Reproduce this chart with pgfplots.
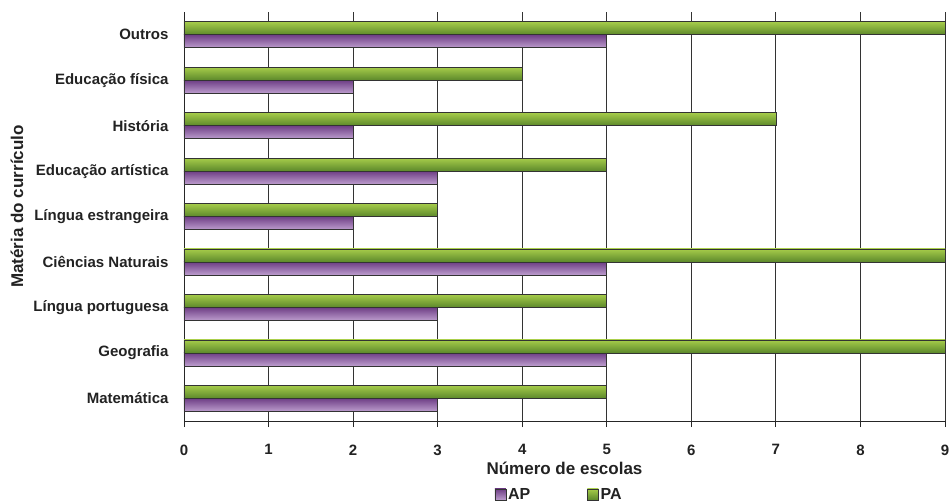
\documentclass[border=0pt]{standalone}
\usepackage{pgfplots}
\pgfplotsset{compat=1.18}
\usepackage{fontspec}
\setmainfont{Liberation Sans}
\definecolor{gtop}{HTML}{A6CC4A}
\definecolor{gbot}{HTML}{5C882B}
\definecolor{ptop}{HTML}{6E3E85}
\definecolor{pbot}{HTML}{BC9CCD}
\definecolor{txt}{HTML}{222222}
\pgfplotstableread{
idx AP PA
0 3 5
1 5 9
2 3 5
3 5 9
4 2 3
5 3 5
6 2 7
7 2 4
8 5 9
}\data
\begin{document}
\begin{tikzpicture}
\useasboundingbox (0,0) rectangle (950pt,503pt);
\begin{axis}[
  at={(184pt,82pt)}, anchor=south west,
  scale only axis, width=761pt, height=409pt,
  xmin=0, xmax=9, ymin=-0.5, ymax=8.5,
  axis x line=bottom, axis y line=left,
  axis line style={-, black!85, line width=0.8pt},
  xtick={0,...,9},
  xmajorgrids, grid style={black!80, line width=0.8pt},
  xtick style={black!85, line width=0.8pt},
  major tick length=6pt,
  ytick={0,...,8},
  yticklabels={Matemática,Geografia,Língua portuguesa,Ciências Naturais,Língua estrangeira,Educação artística,História,Educação física,Outros},
  minor ytick={-0.5,0.5,...,8.5},
  ytick style={draw=none},
  minor tick style={black!85, line width=0.8pt},
  minor tick length=6pt,
  tick align=outside,
  every tick label/.style={font=\fontsize{15}{17}\selectfont\bfseries, text=txt},
  /pgf/number format/assume math mode=true,
  xticklabel style={yshift=-14pt},
  yticklabel style={xshift=-6pt},
  xlabel={Número de escolas},
  ylabel={Matéria do currículo},
  label style={font=\fontsize{17}{19}\selectfont\bfseries, text=txt},
  xlabel style={at={(axis description cs:0.5,-0.1296)}, anchor=base},
  ylabel style={at={(axis description cs:-0.2195,0.5244)}, anchor=center},
  xbar, bar width=13pt,
  legend style={draw=none, fill=none, at={(0.493,-0.1795)}, anchor=center, legend columns=2,
    font=\fontsize{16}{17}\selectfont\bfseries, text=txt, inner sep=1pt,
    /tikz/every even column/.append style={column sep=55pt}},
  legend image code/.code={\draw[#1, draw=black!80] (0pt,-5.5pt) rectangle (11pt,5.5pt);},
  clip=false,
]
\pgfplotsinvokeforeach{-0.2:0.2,0.8:1.2,1.8:2.2,2.8:3.2,3.8:4.2,4.8:5.2,5.8:6.2,6.8:7.2,7.8:8.2}{
  \addplot[forget plot, bar shift=-6.5pt, top color=ptop, bottom color=pbot, draw=black!80, line width=0.6pt,
    restrict y to domain=#1] table[x=AP, y=idx] {\data};
  \addplot[forget plot, bar shift=6.5pt, top color=gtop, bottom color=gbot, draw=black!80, line width=0.6pt,
    restrict y to domain=#1] table[x=PA, y=idx] {\data};
}
\addlegendimage{top color=ptop, bottom color=pbot}
\addlegendentry{AP}
\addlegendimage{top color=gtop, bottom color=gbot}
\addlegendentry{PA}
\end{axis}
\end{tikzpicture}
\end{document}
